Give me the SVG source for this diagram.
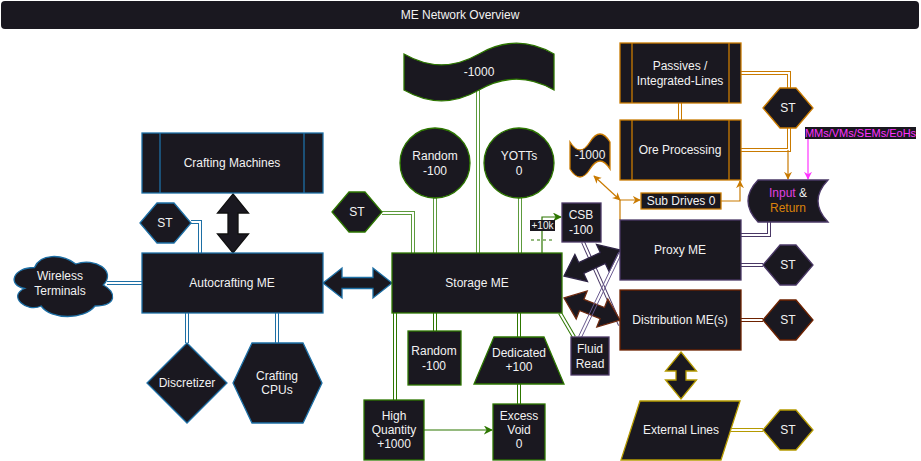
<svg xmlns="http://www.w3.org/2000/svg" width="921" height="461" viewBox="0 0 921 461">
<style>
.n{fill:#1a1820;stroke-width:1.3}
.bl{stroke:#1d6fa5}.gr{stroke:#2d7600}.or{stroke:#c97a00}.pu{stroke:#4a3866}.br{stroke:#6e2200}.go{stroke:#b59a00}
.t{font-family:"Liberation Sans",Arial,sans-serif;font-size:12px;fill:#f2f2f2;text-anchor:middle;dominant-baseline:central}
.lo{fill:none;stroke-width:4}
.li{fill:none;stroke:#ffffff;stroke-width:2}
.s{fill:none;stroke-width:1.2}
.fa{fill:#1a1820;stroke-width:1.3;stroke-linejoin:miter}
</style>
<defs>
<marker id="aO" viewBox="0 0 10 10" refX="9" refY="5" markerWidth="8" markerHeight="8" markerUnits="userSpaceOnUse" orient="auto-start-reverse"><path d="M0,0 L10,5 L0,10 L3,5 Z" fill="#c97a00"/></marker>
<marker id="aG" viewBox="0 0 10 10" refX="9" refY="5" markerWidth="9" markerHeight="9" markerUnits="userSpaceOnUse" orient="auto"><path d="M0,0 L10,5 L0,10 L3,5 Z" fill="#2d7600"/></marker>
<marker id="aM" viewBox="0 0 10 10" refX="9" refY="5" markerWidth="8" markerHeight="8" markerUnits="userSpaceOnUse" orient="auto"><path d="M0,0 L10,5 L0,10 L3,5 Z" fill="#ff33ff"/></marker>
</defs>
<rect width="921" height="461" fill="#ffffff"/>
<g id="title">
<rect x="1" y="1" width="918" height="28" rx="4" fill="#1a1820"/>
<text class="t" x="460" y="15">ME Network Overview</text>
</g>
<g id="connectors">
<g class="lo bl">
<path d="M107,283 H142"/><path d="M191,222 H200 V253"/><path d="M187,313 V343"/><path d="M277,313 V343"/>
</g>
<g class="lo" stroke="#5c9a3c">
<path d="M478,90 V253"/><path d="M435,198 V253"/><path d="M520,198 V253"/><path d="M382,213 H413 V253"/>
</g>
<g class="lo gr">
<path d="M395,313 V400"/><path d="M435,313 V331"/><path d="M519,313 V337"/><path d="M519,384 V404"/><path d="M560,313 L574,337"/>
</g>
<g class="lo or">
<path d="M680,103 V120"/><path d="M741,73 H789 V88"/><path d="M741,150 H789 V128"/>
</g>
<g class="lo pu">
<path d="M769,222 V235 H741"/><path d="M741,265 H763"/><path d="M583,242 L620,325"/>
</g>
<path class="lo br" d="M741,320 H763"/>
<path class="lo go" d="M731,430 H763"/>
<g class="li">
<path d="M107,283 H142"/><path d="M191,222 H200 V253"/><path d="M187,313 V343"/><path d="M277,313 V343"/>
<path d="M478,90 V253"/><path d="M435,198 V253"/><path d="M520,198 V253"/><path d="M382,213 H413 V253"/>
<path d="M395,313 V400"/><path d="M435,313 V331"/><path d="M519,313 V337"/><path d="M519,384 V404"/><path d="M560,313 L574,337"/>
<path d="M680,103 V120"/><path d="M741,73 H789 V88"/><path d="M741,150 H789 V128"/>
<path d="M769,222 V235 H741"/><path d="M741,265 H763"/><path d="M583,242 L620,325"/>
<path d="M741,320 H763"/><path d="M731,430 H763"/>
</g>
<path class="s gr" d="M542,253 V217 H561" marker-end="url(#aG)"/>
<path class="s gr" d="M424,430 H492" marker-end="url(#aG)"/>
<path class="s gr" d="M531,240 H552" stroke-dasharray="3,3"/>
<path class="s or" d="M788,150 V179" marker-end="url(#aO)"/>
<path class="s or" d="M594,176 L620,200" marker-start="url(#aO)" marker-end="url(#aO)"/>
<path class="s or" d="M620,220 V200 H640" marker-end="url(#aO)"/>
<path class="s or" d="M721,201 H740 V181" marker-end="url(#aO)"/>
<path class="s" stroke="#ff33ff" d="M808,139 V179" marker-end="url(#aM)"/>
<polygon class="fa" stroke="#111" points="233,194 248.5,213 238,213 238,234 248.5,234 233,253 217.5,234 228,234 228,213 217.5,213"/>
<polygon class="fa bl" points="323,283 342,268 342,277.5 373,277.5 373,268 392,283 373,298 373,288.5 342,288.5 342,298"/>
<polygon class="fa" stroke="#2e2445" points="564,276 587.5,281.6 583.7,273.4 605.3,263.4 609.1,271.6 620,250 596.5,244.4 600.3,252.6 578.7,262.6 574.9,254.4"/>
<polygon class="fa" stroke="#6e2a10" points="564,298 576.2,318.9 579.5,310.5 600.1,318.7 596.8,327.1 620,320 607.8,299.1 604.5,307.5 583.9,299.3 587.2,290.9"/>
<polygon class="fa go" points="681,352 696.5,371 686,371 686,380 696.5,380 681,399 665.5,380 676,380 676,371 665.5,371"/>
<g stroke="#6a5a90" stroke-width="1">
<path d="M581.4,337.6 L621.4,253.6"/><path d="M578.6,336.4 L618.6,252.4"/>
</g>
</g>
<g id="crafting-machines">
<rect class="n bl" x="142" y="133" width="181" height="60"/>
<path class="bl" d="M160,133 V193 M304,133 V193" stroke-width="1.3"/>
<text class="t" x="232" y="163">Crafting Machines</text>
</g>
<g id="st-autocrafting">
<polygon class="n bl" points="140,223 157,203 174,203 191,223 174,243 157,243"/>
<text class="t" x="165" y="223">ST</text>
</g>
<g id="autocrafting-me">
<rect class="n bl" x="142" y="253" width="181" height="60"/>
<text class="t" x="232" y="283">Autocrafting ME</text>
</g>
<g id="wireless-terminals">
<path class="n bl" d="M34.5,267.5 C12.5,267.5 7,285 24.6,288.5 C7,296.2 26.8,313 41.1,306 C51,320 84,320 95,306 C117,306 117,292 103.25,285 C117,271 95,257 75.75,264 C62,253.5 40,253.5 34.5,267.5 Z"/>
<text class="t" x="60" y="276">Wireless</text>
<text class="t" x="60" y="291">Terminals</text>
</g>
<g id="discretizer">
<polygon class="n bl" points="187,343 227,383 187,423 147,383"/>
<text class="t" x="187" y="383">Discretizer</text>
</g>
<g id="crafting-cpus">
<polygon class="n bl" points="233,383 252,343 303,343 322,383 303,423 252,423"/>
<text class="t" x="277" y="376">Crafting</text>
<text class="t" x="277" y="390">CPUs</text>
</g>
<g id="storage-me">
<rect class="n gr" x="392" y="253" width="170" height="60"/>
<text class="t" x="477" y="283">Storage ME</text>
</g>
<g id="tape-1000">
<path class="n gr" d="M404,54 Q441.5,75.6 479,54 Q516.5,32.4 554,54 L554,90 Q516.5,68.4 479,90 Q441.5,111.6 404,90 Z"/>
<text class="t" x="479" y="72">-1000</text>
</g>
<g id="random-circle">
<circle class="n gr" cx="435" cy="163" r="35"/>
<text class="t" x="435" y="156">Random</text>
<text class="t" x="435" y="171">-100</text>
</g>
<g id="yotts">
<circle class="n gr" cx="519" cy="163" r="35"/>
<text class="t" x="519" y="156">YOTTs</text>
<text class="t" x="519" y="171">0</text>
</g>
<g id="st-storage">
<polygon class="n gr" points="332,212 349,192 365,192 382,212 365,232 349,232"/>
<text class="t" x="357" y="212">ST</text>
</g>
<g id="csb">
<rect class="n pu" x="562" y="203" width="39" height="39"/>
<text class="t" x="581" y="215">CSB</text>
<text class="t" x="581" y="230">-100</text>
</g>
<g id="label-10k">
<rect x="530" y="220" width="25" height="11" fill="#1a1820"/>
<text class="t" x="542.5" y="225.5" style="font-size:10px">+10k</text>
</g>
<g id="random-rect">
<rect class="n gr" x="408" y="331" width="53" height="54"/>
<text class="t" x="434" y="351">Random</text>
<text class="t" x="434" y="366">-100</text>
</g>
<g id="dedicated">
<polygon class="n gr" points="494,337 544,337 564,384 474,384"/>
<text class="t" x="519" y="353">Dedicated</text>
<text class="t" x="519" y="367">+100</text>
</g>
<g id="high-quantity">
<rect class="n gr" x="364" y="400" width="60" height="60"/>
<text class="t" x="394" y="416">High</text>
<text class="t" x="394" y="430">Quantity</text>
<text class="t" x="394" y="444">+1000</text>
</g>
<g id="excess-void">
<rect class="n gr" x="493" y="404" width="52" height="56"/>
<text class="t" x="519" y="416">Excess</text>
<text class="t" x="519" y="430">Void</text>
<text class="t" x="519" y="444">0</text>
</g>
<g id="fluid-read">
<rect class="n pu" x="571" y="337" width="38" height="38"/>
<text class="t" x="590" y="349">Fluid</text>
<text class="t" x="590" y="364">Read</text>
</g>
<g id="passives">
<rect class="n or" x="620" y="43" width="121" height="60"/>
<path class="or" d="M632,43 V103 M729,43 V103" stroke-width="1.3"/>
<text class="t" x="680" y="66">Passives /</text>
<text class="t" x="680" y="81">Integrated-Lines</text>
</g>
<g id="ore-processing">
<rect class="n or" x="620" y="120" width="121" height="60"/>
<path class="or" d="M632,120 V180 M729,120 V180" stroke-width="1.3"/>
<text class="t" x="680" y="150">Ore Processing</text>
</g>
<g id="st-orange">
<polygon class="n or" points="763,108 780,88 796,88 813,108 796,128 780,128"/>
<text class="t" x="788" y="108">ST</text>
</g>
<g id="tape-small">
<path class="n or" d="M570,142 Q580,158 590,142 Q600,126 610,142 L610,169 Q600,153 590,169 Q580,185 570,169 Z"/>
<text class="t" x="590" y="155">-1000</text>
</g>
<g id="sub-drives">
<rect class="n or" x="641" y="193" width="80" height="16"/>
<text class="t" x="681" y="201">Sub Drives 0</text>
</g>
<g id="mms-label">
<rect x="805" y="127" width="111" height="12" fill="#1a1820"/>
<text class="t" x="860.5" y="133" style="font-size:11px;fill:#ff33ff">MMs/VMs/SEMs/EoHs</text>
</g>
<g id="input-return">
<path class="n pu" d="M758,180 H828 Q808,201 828,222 H758 Q738,201 758,180 Z"/>
<text class="t" x="788" y="193"><tspan fill="#e040e0">Input</tspan> &amp;</text>
<text class="t" x="788" y="208" style="fill:#d9820a">Return</text>
</g>
<g id="proxy-me">
<rect class="n pu" x="620" y="220" width="121" height="60"/>
<text class="t" x="680" y="250">Proxy ME</text>
</g>
<g id="st-proxy">
<polygon class="n pu" points="763,265 780,245 796,245 813,265 796,285 780,285"/>
<text class="t" x="788" y="265">ST</text>
</g>
<g id="distribution-me">
<rect class="n br" x="620" y="290" width="121" height="60"/>
<text class="t" x="680" y="320">Distribution ME(s)</text>
</g>
<g id="st-distribution">
<polygon class="n br" points="763,320 780,300 796,300 813,320 796,340 780,340"/>
<text class="t" x="788" y="320">ST</text>
</g>
<g id="external-lines">
<polygon class="n go" points="640,401 740,401 721,460 621,460"/>
<text class="t" x="681" y="430">External Lines</text>
</g>
<g id="st-external">
<polygon class="n go" points="763,430 780,410 796,410 813,430 796,450 780,450"/>
<text class="t" x="788" y="430">ST</text>
</g>
</svg>
